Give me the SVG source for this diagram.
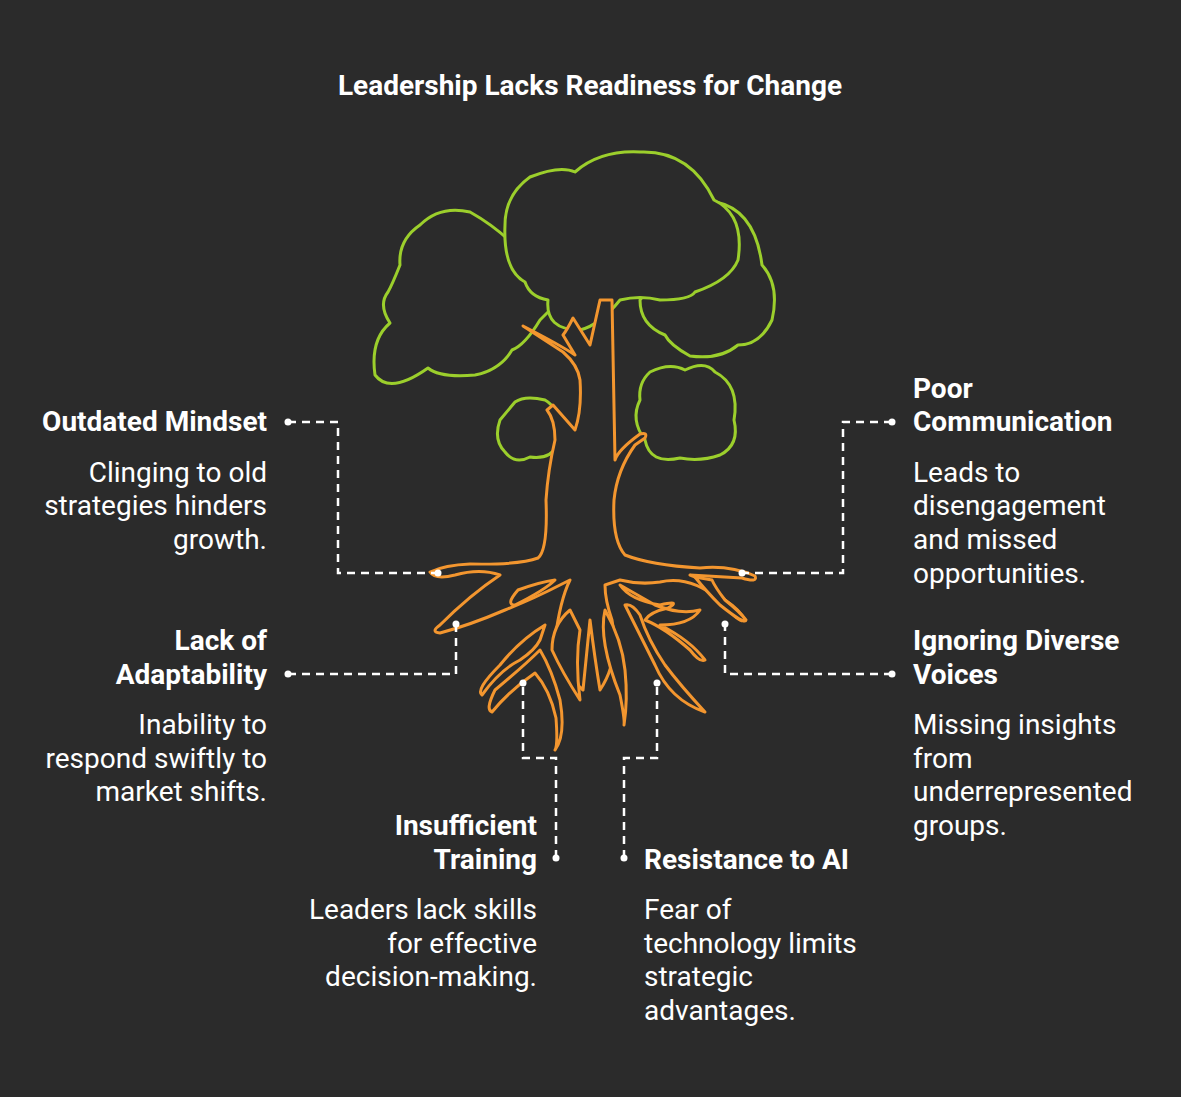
<svg xmlns="http://www.w3.org/2000/svg" width="1181" height="1097" viewBox="0 0 1181 1097">
<style>
text{font-family:Roboto,"Liberation Sans",sans-serif;fill:#fff;font-size:28px}
.b{font-weight:bold}
.r{text-anchor:end}
.c{fill:#2b2b2b;stroke:#9ccf2c;stroke-width:3;stroke-linejoin:round}
.o{fill:#2b2b2b;stroke:#f3962f;stroke-width:3;stroke-linejoin:round}
.d{fill:none;stroke:#fff;stroke-width:2.5;stroke-dasharray:8 6}
.dot{fill:#fff}
</style>
<rect width="1181" height="1097" fill="#2b2b2b"/>
<text class="b" x="590" y="95" text-anchor="middle">Leadership Lacks Readiness for Change</text>
<g id="tree">
<path class="c" d="M470,212 Q440,205 420,225 Q398,240 400,265 Q392,285 388,292 Q378,305 390,323 Q370,340 375,375 Q390,395 428,368 Q440,378 475,375 Q500,370 512,350 Q525,345 540,320 L560,300 Q520,240 470,212 Z"/>
<path class="c" d="M716,202 Q755,210 762,265 Q780,285 772,320 Q760,345 738,345 Q720,360 690,356 Q670,345 665,335 Q640,325 640,300 Z"/>
<path class="c" d="M530,177 Q560,165 575,172 Q600,150 640,152 Q690,150 714,200 Q745,215 738,260 Q730,280 695,292 Q690,300 660,300 Q640,295 620,300 Q600,325 580,330 Q545,330 548,300 Q530,297 525,282 Q503,270 505,225 Q505,195 530,177 Z"/>
<path class="c" d="M515,402 Q525,395 545,400 Q563,410 558,445 Q550,460 530,457 Q515,465 505,452 Q493,440 500,420 Z"/>
<path class="c" d="M650,372 Q670,362 685,370 Q705,360 715,372 Q740,385 734,420 Q740,445 720,455 Q700,462 680,458 Q650,465 645,440 Q630,420 640,400 Q638,383 650,372 Z"/>
<path class="o" d="M600,300 L590,345 L573,318 Q567,330 563,335 L575,355 Q560,345 523,326 L563,352 Q578,365 580,380 Q582,410 575,430 L553,405 L547,410 Q555,420 555,440 Q548,470 546,500 Q548,550 538,558 Q520,565 470,564 Q445,565 430,572 Q435,580 455,575 Q480,568 500,575 Q470,595 440,625 Q430,632 440,633 Q470,625 505,610 Q535,598 560,585 L570,580 Q560,600 555,640 Q560,670 583,690 L590,620 Q595,660 600,690 Q620,660 612,620 Q605,600 605,585 L620,580 Q640,585 660,582 Q690,575 720,600 Q740,625 745,620 Q740,610 725,600 Q705,580 690,575 L742,578 Q758,583 755,576 Q730,565 700,568 Q650,565 625,555 Q612,540 614,500 Q617,470 635,445 L645,438 Q648,432 640,434 Q618,450 615,460 L612,300 Z"/>
<path class="o" d="M518,590 Q505,605 515,605 Q545,590 555,580 Q540,582 518,590 Z"/>
<path class="o" d="M545,625 Q520,640 500,665 Q475,690 482,695 Q500,670 520,660 Q535,650 540,640 Z"/>
<path class="o" d="M540,650 Q525,665 495,690 Q485,710 492,712 Q510,690 535,673 Q550,690 556,718 Q558,745 555,750 Q566,735 560,700 Q552,670 540,650 Z"/>
<path class="o" d="M570,610 Q552,625 552,650 Q562,672 580,700 Q575,660 580,630 Z"/>
<path class="o" d="M605,610 Q598,640 620,695 Q625,720 624,725 Q628,700 625,670 Q622,640 605,610 Z"/>
<path class="o" d="M625,605 Q640,635 655,665 Q670,700 705,712 Q680,685 665,665 Q648,640 640,615 Q632,603 625,605 Z"/>
<path class="o" d="M620,585 Q630,600 660,605 Q682,600 668,608 Q650,612 645,620 Q665,628 690,650 Q700,663 705,660 Q690,640 660,625 Q690,625 700,610 Q680,615 655,605 Z"/>
<path class="o" d="M695,577 Q705,590 720,605 Q745,625 746,620 Q740,612 725,600 Q715,587 712,580 Z"/>
</g>
<g id="connectors">
<path class="d" d="M288,422 H338 V573 H438"/>
<path class="d" d="M288,674 H456 V624"/>
<path class="d" d="M556,858 V758 H523 V683"/>
<path class="d" d="M624,858 V758 H657 V683"/>
<path class="d" d="M892,422 H843 V573 H742"/>
<path class="d" d="M892,674 H725 V624"/>
<g class="dot"><circle cx="288" cy="422" r="3.5"/><circle cx="438" cy="573" r="3.5"/><circle cx="288" cy="674" r="3.5"/><circle cx="456" cy="624" r="3.5"/><circle cx="556" cy="858" r="3.5"/><circle cx="523" cy="683" r="3.5"/><circle cx="624" cy="858" r="3.5"/><circle cx="657" cy="683" r="3.5"/><circle cx="892" cy="422" r="3.5"/><circle cx="742" cy="573" r="3.5"/><circle cx="892" cy="674" r="3.5"/><circle cx="725" cy="624" r="3.5"/></g>
</g>
<g id="outdated"><text class="b r" x="267" y="431">Outdated Mindset</text><text class="r" x="267" y="482">Clinging to old</text><text class="r" x="267" y="515">strategies hinders</text><text class="r" x="267" y="549">growth.</text></g>
<g id="adapt"><text class="b r" x="267" y="650">Lack of</text><text class="b r" x="267" y="684">Adaptability</text><text class="r" x="267" y="734">Inability to</text><text class="r" x="267" y="768">respond swiftly to</text><text class="r" x="267" y="801">market shifts.</text></g>
<g id="training"><text class="b r" x="537" y="835">Insufficient</text><text class="b r" x="537" y="869">Training</text><text class="r" x="537" y="919">Leaders lack skills</text><text class="r" x="537" y="953">for effective</text><text class="r" x="537" y="986">decision-making.</text></g>
<g id="ai"><text class="b" x="644" y="869">Resistance to AI</text><text x="644" y="919">Fear of</text><text x="644" y="953">technology limits</text><text x="644" y="986">strategic</text><text x="644" y="1020">advantages.</text></g>
<g id="comm"><text class="b" x="913" y="398">Poor</text><text class="b" x="913" y="431">Communication</text><text x="913" y="482">Leads to</text><text x="913" y="515">disengagement</text><text x="913" y="549">and missed</text><text x="913" y="583">opportunities.</text></g>
<g id="voices"><text class="b" x="913" y="650">Ignoring Diverse</text><text class="b" x="913" y="684">Voices</text><text x="913" y="734">Missing insights</text><text x="913" y="768">from</text><text x="913" y="801">underrepresented</text><text x="913" y="835">groups.</text></g>
</svg>
